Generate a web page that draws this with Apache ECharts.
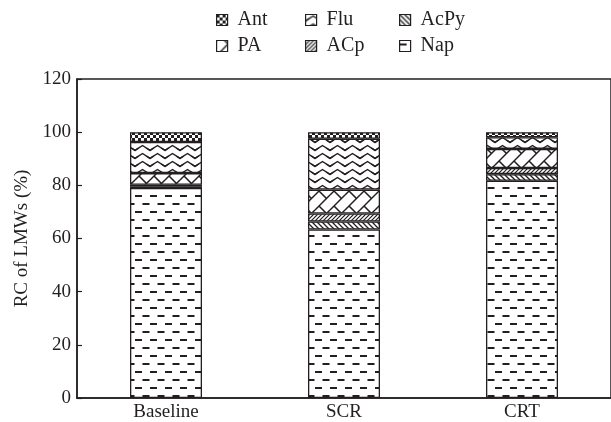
<!DOCTYPE html>
<html>
<head>
<meta charset="utf-8">
<script src="https://cdn.jsdelivr.net/npm/echarts@6/dist/echarts.min.js"></script>
<style>
  html, body { margin: 0; padding: 0; background: #fff; }
  #chart { width: 611px; height: 422px; }
</style>
</head>
<body>
<div id="chart"></div>
<script>
// Relative contribution of low-molecular-weight PAHs per condition
const categories = ['Baseline', 'SCR', 'CRT'];
const napValues  = [79.0, 63.4, 81.7];
const acpyValues = [0.5, 3.0, 2.5];
const acpValues  = [0.7, 3.0, 2.3];
const paValues   = [4.4, 9.0, 7.2];
const fluValues  = [11.7, 19.1, 4.4];
const antValues  = [3.7, 2.5, 1.9];
const yTicks = [0, 20, 40, 60, 80, 100, 120];

const INK = '#231f20';
const FONT = 'Liberation Serif';

// Build a repeating black-and-white fill tile
function tile(w, h, draw) {
  const c = document.createElement('canvas');
  c.width = w; c.height = h;
  const g = c.getContext('2d');
  g.fillStyle = '#fff';
  g.fillRect(0, 0, w, h);
  g.strokeStyle = INK;
  g.fillStyle = INK;
  // draw at neighbouring offsets so strokes wrap seamlessly
  for (let dx = -w; dx <= w; dx += w) {
    for (let dy = -h; dy <= h; dy += h) {
      g.save();
      g.translate(dx, dy);
      draw(g, w, h);
      g.restore();
    }
  }
  return { image: c, repeat: 'repeat' };
}

const patterns = {
  Nap: tile(15, 16, (g) => {
    g.fillRect(0, 3, 7, 2);
    g.fillRect(7.5, 11, 7, 2);
  }),
  AcPy: tile(5, 5, (g, w, h) => {
    g.lineWidth = 1.3;
    g.beginPath(); g.moveTo(0, 0); g.lineTo(w, h); g.stroke();
  }),
  ACp: tile(4, 4, (g, w, h) => {
    g.lineWidth = 1.2;
    g.beginPath(); g.moveTo(0, h); g.lineTo(w, 0); g.stroke();
  }),
  PA: tile(15, 15, (g, w, h) => {
    g.lineWidth = 1.5;
    g.beginPath(); g.moveTo(0, h); g.lineTo(w, 0); g.stroke();
    g.beginPath(); g.moveTo(4, 11); g.lineTo(11.5, 18.5); g.stroke();
  }),
  Flu: tile(15, 8, (g) => {
    g.lineWidth = 1.5;
    g.lineJoin = 'round';
    g.beginPath();
    g.moveTo(-3.75, 4);
    g.lineTo(0, 6.5);
    g.lineTo(7.5, 1.5);
    g.lineTo(15, 6.5);
    g.lineTo(18.75, 4);
    g.stroke();
  }),
  Ant: tile(6, 6, (g) => {
    g.fillRect(0, 0, 3, 3);
    g.fillRect(3, 3, 3, 3);
  })
};

// stacking order, bottom to top
const stackOrder = [
  ['Nap', napValues],
  ['AcPy', acpyValues],
  ['ACp', acpValues],
  ['PA', paValues],
  ['Flu', fluValues],
  ['Ant', antValues]
];

const series = stackOrder.map(([name, values]) => ({
  name: name,
  type: 'bar',
  stack: 'total',
  barWidth: 72,
  data: values,
  itemStyle: {
    color: patterns[name],
    borderColor: INK,
    borderWidth: 1.3
  },
  emphasis: { disabled: true }
}));

// legend layout: three columns, two rows
const legendSlots = [
  ['Ant', 216, 10], ['Flu', 305, 10], ['AcPy', 399, 10],
  ['PA', 216, 36], ['ACp', 305, 36], ['Nap', 399, 36]
];

const legends = legendSlots.map(([name, x, y]) => ({
  data: [{ name: name, icon: 'rect' }],
  left: x,
  top: y,
  padding: 0,
  itemWidth: 11,
  itemHeight: 11,
  itemStyle: { borderColor: INK, borderWidth: 1.2 },
  textStyle: { fontFamily: FONT, fontSize: 20, color: INK, padding: [0, 0, 0, 5] },
  selectedMode: false
}));

const chart = echarts.init(document.getElementById('chart'), null, { renderer: 'canvas' });
chart.setOption({
  animation: false,
  backgroundColor: '#fff',
  legend: legends,
  grid: {
    left: 77, top: 79, width: 540, height: 320,
    show: true, borderColor: INK, borderWidth: 1.5, backgroundColor: 'transparent'
  },
  xAxis: {
    type: 'category',
    data: categories,
    axisLine: { lineStyle: { color: INK, width: 1.5 } },
    axisTick: { inside: true, length: 5, lineStyle: { color: INK, width: 1.2 } },
    axisLabel: { fontFamily: FONT, fontSize: 19, color: INK, margin: 5 }
  },
  yAxis: {
    type: 'value',
    min: yTicks[0],
    max: yTicks[yTicks.length - 1],
    interval: yTicks[1] - yTicks[0],
    name: 'RC of LMWs (%)',
    nameLocation: 'middle',
    nameGap: 44,
    nameTextStyle: { fontFamily: FONT, fontSize: 19, color: INK },
    axisLine: { show: true, lineStyle: { color: INK, width: 1.5 } },
    axisTick: { show: true, inside: true, length: 5, lineStyle: { color: INK, width: 1.2 } },
    axisLabel: { fontFamily: FONT, fontSize: 19, color: INK, margin: 6 },
    splitLine: { show: false }
  },
  series: series
});
</script>
</body>
</html>
